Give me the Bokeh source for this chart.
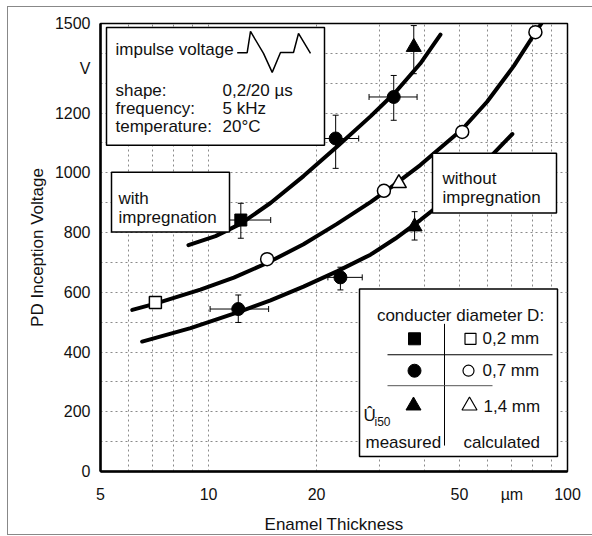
import math
from bokeh.plotting import figure
from bokeh.models import FixedTicker, ColumnDataSource, Whisker, TeeHead, InlineStyleSheet
from bokeh.core.properties import value
from bokeh.embed import file_html
from bokeh.resources import INLINE

FONT = "Liberation Sans"

# ---------------- data ----------------
x_ticks = [5, 10, 20, 50, 70, 100]
x_tick_labels = {5: "5", 10: "10", 20: "20", 50: "50", 70: "µm", 100: "100"}
y_ticks = [0, 200, 400, 600, 800, 1000, 1200, 1350, 1500]
y_tick_labels = {0: "0", 200: "200", 400: "400", 600: "600", 800: "800",
                 1000: "1000", 1200: "1200", 1350: "V", 1500: "1500"}

# fitted curves
with_imp_x = [8.79, 10.46, 12.27, 14.88, 18.39, 22.87, 28.26, 33.16, 38.9, 44.27]
with_imp_y = [758, 788, 829, 899, 989, 1089, 1189, 1270, 1366, 1463]
calc_x = [6.13, 7.11, 9.49, 11.76, 14.56, 18.39, 22.8, 28.26, 31.4, 38.9, 50.9, 59.7, 70.9, 81.4, 84.6]
calc_y = [541, 562, 609, 649, 698, 761, 829, 902, 941, 1026, 1146, 1238, 1358, 1470, 1500]
without_x = [6.53, 8.91, 12.22, 14.88, 18.39, 22.87, 28.26, 33.16, 38.9, 43.4, 51.9, 61.8, 70.2]
without_y = [435, 480, 535, 573, 619, 671, 726, 780, 842, 887, 971, 1061, 1130]

# measured, with impregnation
sq_w_x, sq_w_y = [12.3], [842]
sq_w_xlo, sq_w_xhi = [10.1], [14.9]
sq_w_ylo, sq_w_yhi = [781], [898]
ci_w_x, ci_w_y = [22.6, 32.8], [1115, 1254]
ci_w_xlo, ci_w_xhi = [21.0, 28.0], [26.2, 38.1]
ci_w_ylo, ci_w_yhi = [1015, 1176], [1193, 1326]
tr_w_x, tr_w_y = [37.3], [1421]
tr_w_ylo, tr_w_yhi = [1332], [1493]

# measured, without impregnation
ci_wo_x, ci_wo_y = [12.1, 23.3], [544, 650]
ci_wo_xlo, ci_wo_xhi = [10.1, 21.5], [14.7, 26.8]
ci_wo_ylo, ci_wo_yhi = [499, 608], [591, 684]
tr_wo_x, tr_wo_y = [37.5], [820]
tr_wo_ylo, tr_wo_yhi = [775], [870]

# calculated
sq_c_x, sq_c_y = [7.11], [566]
ci_c_x, ci_c_y = [14.56, 30.8, 50.9, 81.4], [711, 940, 1137, 1471]
tr_c_x, tr_c_y = [33.9], [965]

# ---------------- figure ----------------
W, H = 592, 536
L, R, T, B = 100, 567, 23, 472


def X(px):
    return 10 ** (math.log10(5) + (px - L) / (R - L) * math.log10(20))


def Y(py):
    return (B - py) / (B - T) * 1500


p = figure(width=W, height=H, x_axis_type="log", x_range=(5, 100), y_range=(0, 1500),
           output_backend="svg", toolbar_location=None,
           min_border_left=L, min_border_right=W - R, min_border_top=T, min_border_bottom=H - B)
p.background_fill_color = "white"
p.border_fill_color = "white"
p.outline_line_color = "black"
p.outline_line_width = 1.5

p.xaxis.ticker = FixedTicker(ticks=x_ticks)
p.xaxis.major_label_overrides = x_tick_labels
p.yaxis.ticker = FixedTicker(ticks=y_ticks)
p.yaxis.major_label_overrides = y_tick_labels
for ax in (p.xaxis, p.yaxis):
    ax.axis_line_width = 2.5
    ax.axis_line_color = "black"
    ax.major_tick_line_color = None
    ax.minor_tick_line_color = None
    ax.major_tick_in = 0
    ax.major_tick_out = 0
    ax.major_label_text_font = FONT
    ax.major_label_text_font_size = "16px"
    ax.major_label_text_color = "#111"
    ax.axis_label_text_font = FONT
    ax.axis_label_text_font_size = "17px"
    ax.axis_label_text_font_style = "normal"
    ax.axis_label_text_color = "#111"
p.xaxis.axis_label = "Enamel Thickness"
p.yaxis.axis_label = "PD Inception Voltage"
p.xaxis.major_label_standoff = 14
p.xaxis.axis_label_standoff = 9
p.yaxis.major_label_standoff = 10
p.yaxis.axis_label_standoff = 5

p.xgrid.ticker = FixedTicker(ticks=[6, 7, 8, 9, 10, 20, 30, 40, 50, 60, 70, 80, 90])
p.ygrid.ticker = FixedTicker(ticks=list(range(100, 1500, 100)))
for g in (p.xgrid, p.ygrid):
    g.grid_line_color = "#8a8a8a"
    g.grid_line_dash = "2 3"
    g.grid_line_width = 1

# curves
for cx, cy in ((with_imp_x, with_imp_y), (calc_x, calc_y), (without_x, without_y)):
    p.line(cx, cy, line_color="black", line_width=4, line_cap="round", line_join="round")


# error bars
def whiskers(base, lo, hi, dim):
    src = ColumnDataSource(dict(base=base, lower=lo, upper=hi))
    w = Whisker(source=src, base="base", lower="lower", upper="upper", dimension=dim,
                line_color="black", line_width=1,
                upper_head=TeeHead(size=6, line_color="black", line_width=1),
                lower_head=TeeHead(size=6, line_color="black", line_width=1))
    p.add_layout(w)


whiskers(sq_w_y, sq_w_xlo, sq_w_xhi, "width")
whiskers(sq_w_x, sq_w_ylo, sq_w_yhi, "height")
whiskers(ci_w_y, ci_w_xlo, ci_w_xhi, "width")
whiskers(ci_w_x, ci_w_ylo, ci_w_yhi, "height")
whiskers(tr_w_x, tr_w_ylo, tr_w_yhi, "height")
whiskers(ci_wo_y, ci_wo_xlo, ci_wo_xhi, "width")
whiskers(ci_wo_x, ci_wo_ylo, ci_wo_yhi, "height")
whiskers(tr_wo_x, tr_wo_ylo, tr_wo_yhi, "height")

# markers
p.scatter(sq_w_x, sq_w_y, marker="square", size=12, fill_color="black", line_color="black")
p.scatter(ci_w_x + ci_wo_x, ci_w_y + ci_wo_y, marker="circle", size=13,
          fill_color="black", line_color="black")
p.scatter(tr_w_x + tr_wo_x, tr_w_y + tr_wo_y, marker="triangle", size=15,
          fill_color="black", line_color="black")
p.scatter(sq_c_x, sq_c_y, marker="square", size=12, fill_color="white", line_color="black", line_width=1.5)
p.scatter(ci_c_x, ci_c_y, marker="circle", size=13, fill_color="white", line_color="black", line_width=1.5)
p.scatter(tr_c_x, tr_c_y, marker="triangle", size=15, fill_color="white", line_color="black", line_width=1.5)

# boxes (info, labels, legend)
boxes = [(106, 324, 27, 145), (111, 229, 172, 232), (432, 556, 153, 213), (359, 557, 289, 457)]
p.quad(left=[X(b[0]) for b in boxes], right=[X(b[1]) for b in boxes],
       top=[Y(b[2]) for b in boxes], bottom=[Y(b[3]) for b in boxes],
       fill_color="white", line_color="black", line_width=1.5)

# impulse waveform sketch
wave = [(236.7, 52.3), (246.7, 52.3), (250, 31), (263, 53), (271.7, 72), (280, 52),
        (293, 52), (298, 33), (310, 53)]
p.line([X(a) for a, b in wave], [Y(b) for a, b in wave], line_color="black", line_width=1.5)

# legend inner lines and markers
p.segment(x0=[X(444), X(387), X(387)], y0=[Y(324), Y(355), Y(386)],
          x1=[X(444), X(552), X(492)], y1=[Y(446), Y(355), Y(386)],
          line_color=["black", "black", "#555"], line_width=1)
p.scatter([X(414)], [Y(339)], marker="square", size=12, fill_color="black", line_color="black")
p.scatter([X(414)], [Y(371)], marker="circle", size=13, fill_color="black", line_color="black")
p.scatter([X(413)], [Y(406)], marker="triangle", size=15, fill_color="black", line_color="black")
p.scatter([X(470)], [Y(339)], marker="square", size=11, fill_color="white", line_color="black", line_width=1.2)
p.scatter([X(468)], [Y(371)], marker="circle", size=11, fill_color="white", line_color="black", line_width=1.2)
p.scatter([X(469)], [Y(406)], marker="triangle", size=15, fill_color="white", line_color="black", line_width=1.2)


def txt(px, py, s, size="17px", align="left", baseline="alphabetic"):
    p.text(x=[X(px)], y=[Y(py)], text=[s], text_font=value(FONT), text_font_size=size,
           text_align=align, text_baseline=baseline, text_color="#111")


# info box texts
txt(115, 49, "impulse voltage")
txt(115, 90, "shape:")
txt(115, 108, "frequency:")
txt(115, 126, "temperature:")
txt(222, 90, "0,2/20 µs")
txt(222, 108, "5 kHz")
txt(222, 126, "20°C")

# curve labels
txt(118, 198, "with")
txt(118, 217, "impregnation")
txt(442, 178, "without")
txt(442, 197, "impregnation")

# legend texts
txt(460, 316, "conducter diameter D:", align="center")
txt(482, 339, "0,2 mm", baseline="middle")
txt(482, 371, "0,7 mm", baseline="middle")
txt(483, 407, "1,4 mm", baseline="middle")
txt(363, 416, "Û")
txt(374, 422, "i50", size="12px")
txt(365, 443, "measured")
txt(463, 443, "calculated")

# outer frame of the scanned page
p.stylesheets = [InlineStyleSheet(css=(
    ":host::after{content:'';position:absolute;left:7px;top:6px;width:585px;height:529px;"
    "border-left:1.5px solid #888;border-top:1.5px solid #888;border-bottom:1.5px solid #888;"
    "box-sizing:border-box;pointer-events:none;}"))]

open("out.html", "w").write(file_html(p, INLINE))
